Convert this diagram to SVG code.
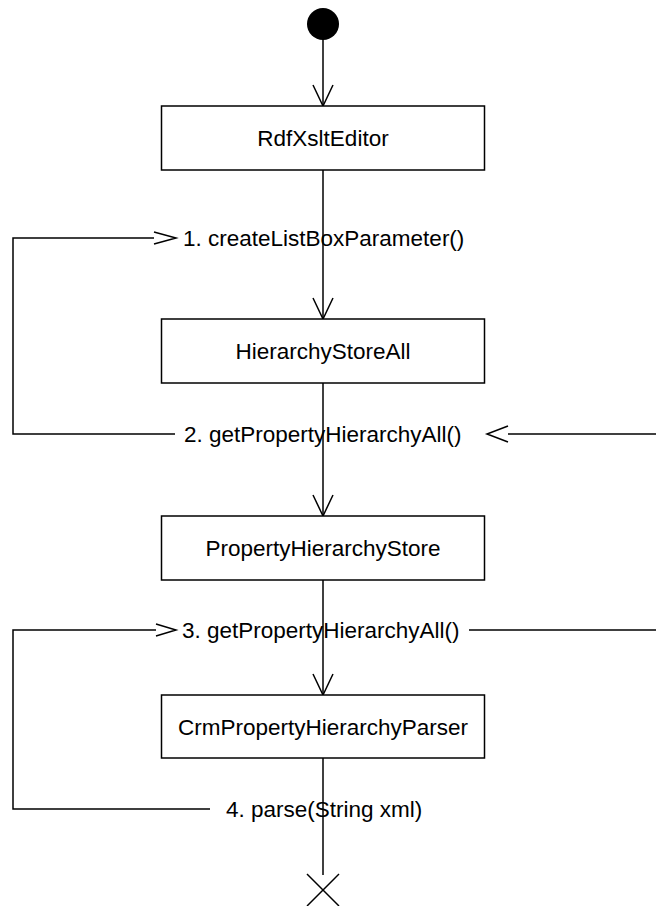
<svg xmlns="http://www.w3.org/2000/svg" width="656" height="906" viewBox="0 0 656 906">
  <style>
    .box { fill: #ffffff; stroke: #000000; stroke-width: 1.5; }
    .line { fill: none; stroke: #000000; stroke-width: 1.5; }
    .head { fill: none; stroke: #000000; stroke-width: 1.5; stroke-linejoin: miter; }
    .name { font-family: "Liberation Sans", Arial, sans-serif; font-size: 22.5px; fill: #000000; text-anchor: middle; }
    .msg { font-family: "Liberation Sans", Arial, sans-serif; font-size: 22.5px; fill: #000000; }
  </style>
  <rect width="656" height="906" fill="#ffffff"/>

  <!-- lifeline, loops and arrowheads -->
  <g id="connectors">
    <!-- start to RdfXsltEditor -->
    <line class="line" x1="323" y1="24" x2="323" y2="106"/>
    <polyline class="head" points="313,85 323,106 333,85"/>
    <!-- RdfXsltEditor to HierarchyStoreAll -->
    <line class="line" x1="323" y1="170" x2="323" y2="319"/>
    <polyline class="head" points="313,298 323,319 333,298"/>
    <!-- HierarchyStoreAll to PropertyHierarchyStore -->
    <line class="line" x1="323" y1="383" x2="323" y2="516"/>
    <polyline class="head" points="313,495 323,516 333,495"/>
    <!-- PropertyHierarchyStore to CrmPropertyHierarchyParser -->
    <line class="line" x1="323" y1="580" x2="323" y2="695"/>
    <polyline class="head" points="313,674 323,695 333,674"/>
    <!-- CrmPropertyHierarchyParser to end -->
    <line class="line" x1="323" y1="758" x2="323" y2="875"/>

    <!-- message 1 / 2 loop on the left -->
    <polyline class="line" points="175,434 13,434 13,238 154,238"/>
    <polyline class="head" points="154,232 176,238 154,244"/>
    <!-- message 2 / 3 loop, running off the right edge -->
    <line class="line" x1="508" y1="434" x2="656" y2="434"/>
    <polyline class="head" points="508,426 487,434 508,442"/>
    <line class="line" x1="469" y1="630" x2="656" y2="630"/>
    <!-- message 3 / 4 loop on the left -->
    <polyline class="line" points="210,809 13,809 13,630 156,630"/>
    <polyline class="head" points="156,624 176,630 156,636"/>

    <!-- termination mark -->
    <line class="line" x1="307" y1="874" x2="339" y2="906"/>
    <line class="line" x1="339" y1="874" x2="307" y2="906"/>
  </g>

  <g id="start">
    <circle cx="323" cy="24" r="16" fill="#000000"/>
  </g>

  <g id="rdfXsltEditor">
    <rect class="box" x="161.5" y="106" width="323" height="64"/>
    <text class="name" x="323" y="146">RdfXsltEditor</text>
  </g>

  <g id="hierarchyStoreAll">
    <rect class="box" x="161.5" y="319" width="323" height="64"/>
    <text class="name" x="323" y="359">HierarchyStoreAll</text>
  </g>

  <g id="propertyHierarchyStore">
    <rect class="box" x="161.5" y="516" width="323" height="64"/>
    <text class="name" x="323" y="556">PropertyHierarchyStore</text>
  </g>

  <g id="crmPropertyHierarchyParser">
    <rect class="box" x="161.5" y="695" width="323" height="63"/>
    <text class="name" x="323" y="735">CrmPropertyHierarchyParser</text>
  </g>

  <g id="messages">
    <text class="msg" x="183" y="246">1. createListBoxParameter()</text>
    <text class="msg" x="184" y="442">2. getPropertyHierarchyAll()</text>
    <text class="msg" x="182" y="638">3. getPropertyHierarchyAll()</text>
    <text class="msg" x="226" y="817">4. parse(String xml)</text>
  </g>
</svg>
